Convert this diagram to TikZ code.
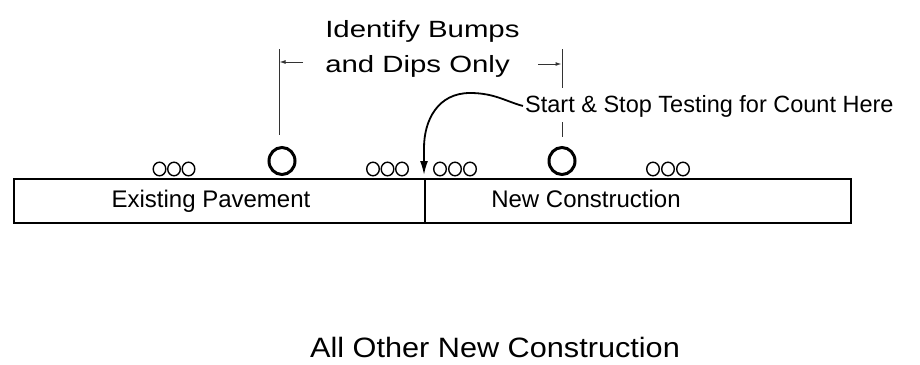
\documentclass[tikz,border=0pt]{standalone}
\usepackage{fontspec}
\setmainfont{Liberation Sans}
\usetikzlibrary{arrows.meta,shapes.geometric}
\begin{document}
\begin{tikzpicture}[x=1pt,y=-1pt,
  txt/.style={inner sep=0pt,font=\fontsize{24}{28}\selectfont},
  ttl/.style={inner sep=0pt,font=\fontsize{23.5}{28}\selectfont,xscale=1.25,anchor=base west},
  smallo/.style={line width=1.4pt},
  bigo/.style={line width=3pt},
  dim/.style={line width=1pt,black!80},
  box/.style={draw,line width=1.5pt,inner sep=0pt}]
\useasboundingbox (0,0) rectangle (920,364);
% pavement boxes
\node[box,minimum width=411pt,minimum height=44pt,anchor=north west] (ex) at (13,178) {};
\node[box,minimum width=426pt,minimum height=44pt,anchor=north west] (nc) at (424,178) {};
\node[txt,anchor=base] (ext) at (211,207) {Existing Pavement};
\node[txt,anchor=base] (nct) at (586,207) {New Construction};
% big O
\coordinate (bo1) at (282,161);
\coordinate (bo2) at (562,161);
\draw[bigo] (bo1) ellipse [x radius=13pt, y radius=13.5pt];
\draw[bigo] (bo2) ellipse [x radius=13pt, y radius=13.5pt];
% small o groups
\foreach \n/\x in {a1/159.5,a2/174,a3/188.5,b1/373,b2/387.5,b3/402,c1/440,c2/455,c3/470,d1/653,d2/668,d3/683}{
  \coordinate (\n) at (\x,169);
  \draw[smallo] (\n) ellipse [x radius=6.3pt, y radius=6.8pt];}
% title
\node[ttl] (t1) at (325,37) {Identify Bumps};
\node[ttl] (t2) at (325,72) {and Dips Only};
% dimension lines
\coordinate (l1) at (279,49);
\coordinate (l2) at (279,135);
\draw[dim] (l1) -- (l2);
\coordinate (la) at (303,62);
\coordinate (lb) at (279.5,62);
\draw[dim,-{Latex[length=6pt,width=4pt]}] (la) -- (lb);
\coordinate (r1) at (562,49);
\coordinate (r2) at (562,88);
\coordinate (r3) at (562,122);
\coordinate (r4) at (562,137);
\draw[dim] (r1) -- (r2);
\draw[dim] (r3) -- (r4);
\coordinate (ra) at (538,64);
\coordinate (rb) at (561.5,64);
\draw[dim,-{Latex[length=6pt,width=4pt]}] (ra) -- (rb);
% start/stop label
\node[inner sep=0pt,anchor=base west,font=\fontsize{23.5}{28}\selectfont] (ss) at (525,112) {Start \& Stop Testing for Count Here};
\coordinate (tip) at (424,175);
\draw[line width=1.8pt,-{Latex[length=14pt,width=8pt]}] ([xshift=-2pt]ss.west) .. controls (507,102) and (495,93) .. (470,93)
  .. controls (438,93) and (424,120) .. (424,148) -- (tip);
% bottom caption
\node[inner sep=0pt,anchor=base,font=\fontsize{28}{32}\selectfont,xscale=1.095] (cap) at (495,357) {All Other New Construction};
\end{tikzpicture}
\end{document}
